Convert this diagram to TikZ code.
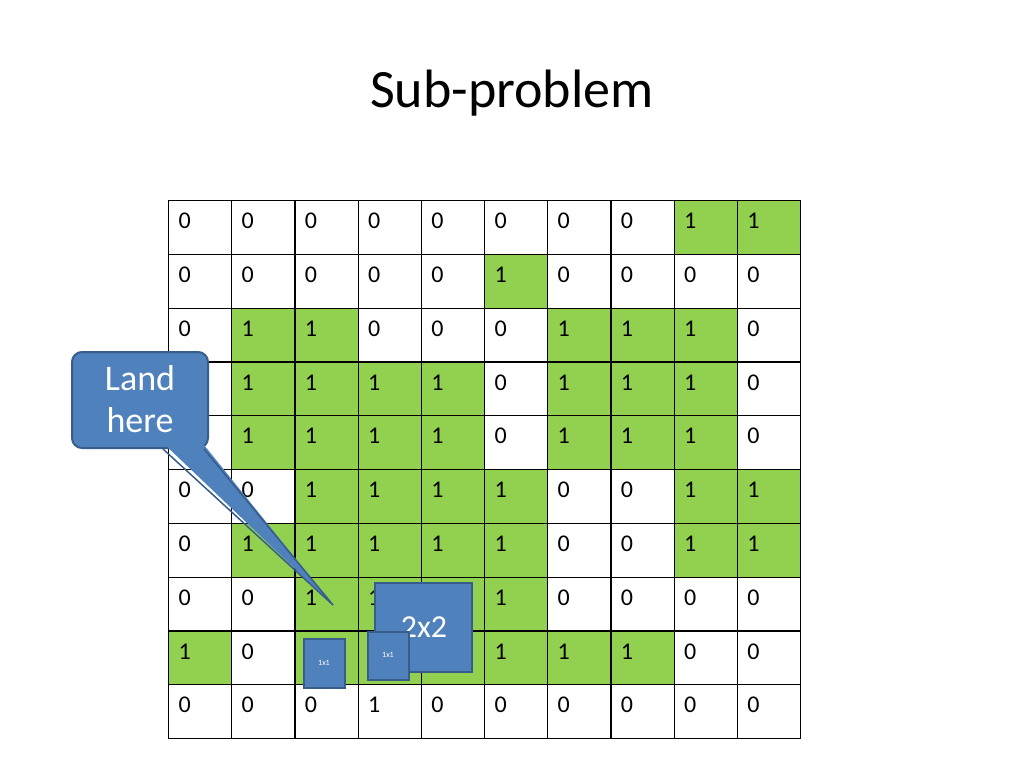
\documentclass[tikz,border=0pt]{standalone}
\usepackage{fontspec}
\setmainfont{Carlito}
\begin{document}
\begin{tikzpicture}[x=1pt,y=-1pt,
  cellbox/.style={draw=black,line width=1.2pt,minimum width=63.2pt,minimum height=53.8pt,anchor=north west,inner sep=0pt},
  digit/.style={anchor=west,font=\fontsize{24}{26}\selectfont},
  bluebox/.style={fill=blueA,draw=blueB,line width=2pt}]
\definecolor{greenA}{HTML}{92D050}
\definecolor{blueA}{HTML}{4F81BD}
\definecolor{blueB}{HTML}{385D8A}
\useasboundingbox (0,0) rectangle (1024,768);
\node[font=\fontsize{54}{60}\selectfont] (title) at (512,93) {Sub-problem};
\foreach \r/\row/\grn in {0/{0,0,0,0,0,0,0,0,1,1}/0000000011,1/{0,0,0,0,0,1,0,0,0,0}/0000010000,2/{0,1,1,0,0,0,1,1,1,0}/0110001110,3/{0,1,1,1,1,0,1,1,1,0}/0111101110,4/{0,1,1,1,1,0,1,1,1,0}/0111101110,5/{0,0,1,1,1,1,0,0,1,1}/0011110011,6/{0,1,1,1,1,1,0,0,1,1}/0111110011,7/{0,0,1,1,1,1,0,0,0,0}/0011110000,8/{1,0,1,1,1,1,1,1,0,0}/1011111100,9/{0,0,0,1,0,0,0,0,0,0}/0000000000}{
  \foreach \v [count=\c from 0] in \row {
    \ifnum\r=9 \def\fc{white}\else\ifnum\v=1 \def\fc{greenA}\else\def\fc{white}\fi\fi
    \node[cellbox,fill=\fc] (c\r\c) at ({168+63.2*\c},{200+53.8*\r}) {};
    \node[digit] (t\r\c) at ({175+63.2*\c},{221+53.8*\r}) {\v};
  }
}
% callout
\draw[bluebox,rounded corners=10pt] (72,352) rectangle (208,448);
\fill[blueA] (160,440) -- (333,605) -- (200,440) -- cycle;
\draw[blueB,line width=1.5pt] (163,449) -- (333,605) -- (204,449);
\node[text=white,align=center,font=\fontsize{36}{42}\selectfont] (land) at (140,399) {Land\\here};
% boxes
\draw[bluebox] (375,583) rectangle (472,672);
\node[text=white,font=\fontsize{32}{34}\selectfont] (b2) at (424,627) {2x2};
\draw[bluebox] (368,632) rectangle (409,680);
\node[text=white,font=\fontsize{8}{9}\selectfont] (b1a) at (388,655) {1x1};
\draw[bluebox] (304,639) rectangle (345,688);
\node[text=white,font=\fontsize{8}{9}\selectfont] (b1b) at (324,663) {1x1};
\end{tikzpicture}
\end{document}
